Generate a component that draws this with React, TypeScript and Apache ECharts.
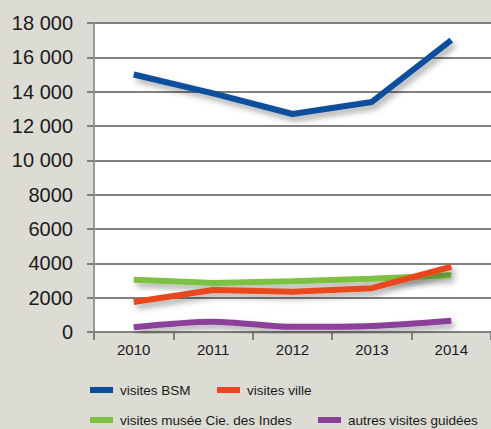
import React, { useEffect, useRef } from "react";
import * as echarts from "echarts";

const years = ["2010", "2011", "2012", "2013", "2014"];
const visitesBSM = [15000, 13900, 12700, 13400, 17000];
const visitesVille = [1750, 2450, 2350, 2550, 3800];
const visitesMusee = [3050, 2850, 2950, 3100, 3300];
const autresVisites = [280, 600, 300, 350, 650];
const yTicks = [0, 2000, 4000, 6000, 8000, 10000, 12000, 14000, 16000, 18000];

const names = [
  "visites BSM",
  "visites ville",
  "visites musée Cie. des Indes",
  "autres visites guidées",
];
const colors = ["#0b4f9c", "#e8481f", "#7dc143", "#8b4099"];
const font = "'Liberation Sans', Arial, sans-serif";

function fmt(v: number): string {
  if (v >= 10000) {
    const s = String(v);
    return s.slice(0, s.length - 3) + " " + s.slice(s.length - 3);
  }
  return String(v);
}

export default function App() {
  const ref = useRef<HTMLDivElement>(null);
  useEffect(() => {
    if (!ref.current) return;
    const chart = echarts.init(ref.current, null, { renderer: "svg" });
    const datas = [visitesBSM, visitesVille, visitesMusee, autresVisites];
    const legendPos = [
      { left: 90, top: 383 },
      { left: 217, top: 383 },
      { left: 90, top: 413 },
      { left: 318, top: 413 },
    ];
    chart.setOption({
      animation: false,
      backgroundColor: "#dcdcd4",
      textStyle: { fontFamily: font },
      legend: names.map((n, i) => ({
        data: [n],
        left: legendPos[i].left,
        top: legendPos[i].top,
        icon: "rect",
        itemWidth: 23,
        itemHeight: 6,
        itemGap: 10,
        padding: 0,
        textStyle: { fontSize: 13.5, color: "#1a1a1a", fontFamily: font, padding: [0, 0, 0, 2] },
      })),
      grid: {
        left: 94,
        right: 0,
        top: 23,
        bottom: 97,
        show: true,
        backgroundColor: "#ffffff",
        borderWidth: 0,
      },
      xAxis: {
        type: "category",
        data: years,
        boundaryGap: true,
        axisLine: { show: true, lineStyle: { color: "#808080", width: 2 } },
        axisTick: { show: true, length: 8, lineStyle: { color: "#808080", width: 2 } },
        axisLabel: { fontSize: 15, color: "#1a1a1a", margin: 10, fontFamily: font },
        splitLine: { show: false },
      },
      yAxis: {
        type: "value",
        min: 0,
        max: 18000,
        interval: 2000,
        axisLine: { show: true, lineStyle: { color: "#9a9a9a", width: 2 } },
        axisTick: { show: true, length: 7, lineStyle: { color: "#808080", width: 2 } },
        axisLabel: {
          fontSize: 20,
          color: "#1a1a1a",
          margin: 21,
          fontFamily: font,
          formatter: (v: number) => (yTicks.includes(v) ? fmt(v) : ""),
        },
        splitLine: { show: true, lineStyle: { color: "#808080", width: 2 } },
      },
      series: names.map((n, i) => ({
        name: n,
        type: "line",
        data: datas[i],
        symbol: "none",
        smooth: i === 3 ? 0.3 : false,
        color: colors[i],
        lineStyle: {
          width: 6,
          color: colors[i],
          shadowBlur: 6,
          shadowColor: "rgba(0,0,0,0.35)",
          shadowOffsetX: 3,
          shadowOffsetY: 4,
        },
        z: 10 - i,
      })),
    });
    return () => chart.dispose();
  }, []);
  return <div ref={ref} style={{ width: 491, height: 429, position: "fixed", left: 0, top: 0 }} />;
}
